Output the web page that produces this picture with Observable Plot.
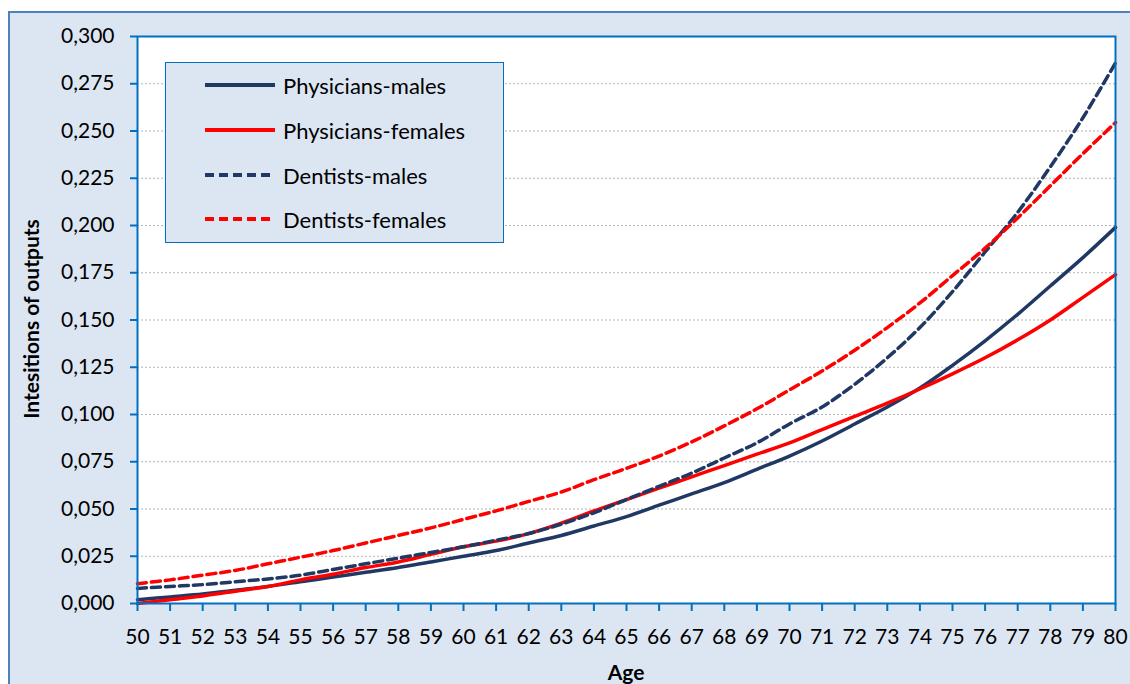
<!DOCTYPE html>
<html><head><meta charset="utf-8">
<script src="https://cdn.jsdelivr.net/npm/d3@7"></script>
<script src="https://cdn.jsdelivr.net/npm/@observablehq/plot@0.6"></script>
<style>
body{margin:0;background:#fff;width:1130px;height:684px;overflow:hidden;position:relative;font-family:Lato,sans-serif}
#frame{position:absolute;left:8px;top:11px;width:1130px;height:700px;background:#dce6f2;border-left:2px solid #4f81bd;border-top:2px solid #4f81bd}
#chart{position:absolute;left:0;top:0}
#legend{position:absolute;left:165px;top:62px;width:339px;height:181px;background:#dce6f2;border:1px solid #0070c0;box-sizing:border-box}
.row{position:absolute;left:38px;height:26px;display:flex;align-items:center;font-size:22px;color:#000}
.row svg{margin-right:7px}
#ylab{position:absolute;left:30px;top:319px;transform:translate(-50%,-50%) rotate(-90deg);font-weight:bold;font-size:21px;white-space:nowrap}
#xlab{position:absolute;left:626px;top:659px;transform:translateX(-50%);font-weight:bold;font-size:21px}
</style></head><body>
<div id="frame"></div><div id="chart"></div><div id="legend"></div>
<div id="ylab">Intesitions of outputs</div><div id="xlab">Age</div>
<script>
const ages = [50,51,52,53,54,55,56,57,58,59,60,61,62,63,64,65,66,67,68,69,70,71,72,73,74,75,76,77,78,79,80];
const physiciansMales = [0.002,0.0035,0.005,0.007,0.009,0.0115,0.014,0.0165,0.019,0.022,0.025,0.028,0.032,0.036,0.041,0.046,0.052,0.058,0.064,0.071,0.078,0.086,0.095,0.104,0.114,0.126,0.139,0.153,0.168,0.183,0.199];
const physiciansFemales = [0.000,0.002,0.004,0.0065,0.009,0.0125,0.0155,0.019,0.022,0.026,0.030,0.033,0.037,0.0425,0.049,0.055,0.061,0.067,0.073,0.079,0.085,0.092,0.099,0.106,0.1135,0.1215,0.130,0.1395,0.150,0.162,0.174];
const dentistsMales = [0.008,0.009,0.010,0.0115,0.013,0.015,0.018,0.021,0.024,0.027,0.030,0.0335,0.037,0.042,0.048,0.055,0.062,0.069,0.077,0.085,0.095,0.104,0.116,0.130,0.146,0.165,0.186,0.207,0.231,0.257,0.286];
const dentistsFemales = [0.0105,0.0125,0.015,0.0175,0.021,0.0245,0.028,0.032,0.036,0.040,0.0445,0.049,0.054,0.059,0.0655,0.0715,0.078,0.0855,0.094,0.103,0.113,0.123,0.134,0.146,0.159,0.1735,0.188,0.204,0.221,0.238,0.2545];
const seriesNames = ["Physicians-males","Physicians-females","Dentists-males","Dentists-females"];
const seriesValues = [physiciansMales, physiciansFemales, dentistsMales, dentistsFemales];
const seriesColors = ["#1f3864","#ff0000","#1f3864","#ff0000"];
const seriesDash = [null,null,"9,5","9,5"];
const yTicks = [0,0.025,0.05,0.075,0.1,0.125,0.15,0.175,0.2,0.225,0.25,0.275,0.3];

const data = seriesNames.flatMap((s,k)=>ages.map((a,i)=>({age:a,value:seriesValues[k][i],series:s})));
const fmt = v => d3.format(".3f")(v).replace(".", ",");

const chart = Plot.plot({
  width:1130, height:684,
  marginLeft:137, marginRight:15, marginTop:36, marginBottom:81,
  style:{background:"transparent", fontFamily:"Lato, sans-serif", fontSize:"21px", color:"#000", overflow:"visible"},
  x:{domain:[50,80]},
  y:{domain:[0,0.3]},
  marks:[
    Plot.frame({fill:"white", stroke:null}),
    Plot.ruleY(yTicks.filter(v=>v>0&&v<0.3), {stroke:"#b4b4b4", strokeDasharray:"2,2", strokeWidth:1.2}),
    ...seriesNames.map((s,k)=>Plot.line(data.filter(d=>d.series===s), {
      x:"age", y:"value", stroke:seriesColors[k], strokeWidth:3.5, strokeDasharray:seriesDash[k], curve:"catmull-rom"
    })),
    Plot.frame({stroke:"#0070c0", strokeWidth:2}),
    Plot.axisY({ticks:yTicks, tickFormat:fmt, tickSize:7, tickPadding:16, stroke:"#0070c0", strokeWidth:2, label:null}),
    Plot.axisX({ticks:ages, tickFormat:d=>String(d), tickSize:8, tickPadding:18, stroke:"#0070c0", strokeWidth:2, label:null})
  ]
});
document.getElementById("chart").appendChild(chart);

const legend = document.getElementById("legend");
const rowY = [22, 67, 112, 156];
seriesNames.forEach((s,k)=>{
  const row = document.createElement("div");
  row.className = "row";
  row.style.top = (rowY[k]-13) + "px";
  row.innerHTML = `<svg width="72" height="10"><line x1="1" y1="5" x2="71" y2="5" stroke="${seriesColors[k]}" stroke-width="4" ${seriesDash[k]?`stroke-dasharray="${seriesDash[k]}"`:""}/></svg><span>${s}</span>`;
  legend.appendChild(row);
});
</script>
</body></html>
